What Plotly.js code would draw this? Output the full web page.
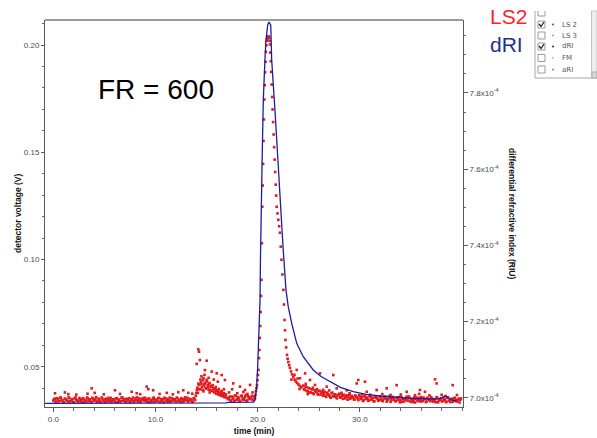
<!DOCTYPE html>
<html>
<head>
<meta charset="utf-8">
<script src="https://cdn.plot.ly/plotly-3.0.1.min.js"></script>
<style>
  html, body { margin: 0; padding: 0; background: #ffffff; }
  #chart { width: 597px; height: 438px; }
</style>
</head>
<body>
<div id="chart"></div>
<script>
// ---------------- DATA ----------------
// LS2 detector voltage (V) vs time (min)
const ls2Time = [
  0,0.15,0.3,0.45,0.6,0.75,0.9,1.05,1.2,1.35,
  1.5,1.65,1.8,1.95,2.1,2.25,2.4,2.55,2.7,2.85,
  3,3.15,3.3,3.45,3.6,3.75,3.9,4.05,4.2,4.35,
  4.5,4.65,4.8,4.95,5.1,5.25,5.4,5.55,5.7,5.85,
  6,6.15,6.3,6.45,6.6,6.75,6.9,7.05,7.2,7.35,
  7.5,7.65,7.8,7.95,8.1,8.25,8.4,8.55,8.7,8.85,
  9,9.15,9.3,9.45,9.6,9.75,9.9,10.05,10.2,10.35,
  10.5,10.65,10.8,10.95,11.1,11.25,11.4,11.55,11.7,11.85,
  12,12.15,12.3,12.45,12.6,12.75,12.9,13.05,13.2,13.35,
  13.5,13.65,13.8,
  13.95,14.05,14.15,14.25,14.35,14.45,14.55,14.65,14.75,14.85,14.95,
  15.05,15.15,15.25,15.35,15.45,15.55,15.65,15.75,15.85,15.95,
  16.05,16.15,16.25,16.35,16.45,16.55,16.65,16.75,16.85,16.95,
  17.1,17.25,17.4,17.55,17.7,17.85,18,18.15,18.3,18.45,18.6,18.75,
  18.9,19.05,19.2,19.35,19.5,19.65,
  19.74,19.78,19.83,19.88,19.93,19.98,20.03,20.08,20.13,20.17,
  20.21,20.25,20.29,20.33,20.37,20.41,20.45,20.49,20.53,20.57,
  20.61,20.65,20.69,20.73,20.77,20.81,20.85,20.89,20.93,20.97,
  21.01,21.05,21.09,21.13,21.16,21.20,
  21.24,21.28,21.32,21.37,21.42,21.46,21.51,21.56,21.61,21.66,
  21.71,21.76,21.81,21.86,21.94,22.02,22.10,22.18,22.26,22.33,
  22.42,22.51,22.57,22.63,22.68,22.72,22.79,22.87,22.93,23.00,
  23.08,23.16,23.26,23.36,23.49,23.61,23.73,23.85,23.99,24.13,24.28,
  24.45,24.6,24.75,24.9,25.05,25.2,25.35,25.5,25.65,25.8,25.95,26.1,
  26.25,26.4,26.55,26.7,26.85,27,27.15,27.3,27.45,27.6,27.75,27.9,
  28.05,28.2,28.35,28.5,28.65,28.8,28.95,29.1,29.25,29.4,29.55,29.7,
  29.85,30,30.15,30.3,30.45,30.6,30.75,30.9,31.05,31.2,31.35,31.5,
  31.65,31.8,31.95,32.1,32.25,32.4,32.55,32.7,32.85,33,33.15,33.3,
  33.45,33.6,33.75,33.9,34.05,34.2,34.35,34.5,34.65,34.8,34.95,35.1,
  35.25,35.4,35.55,35.7,35.85,36,36.15,36.3,36.45,36.6,36.75,36.9,
  37.05,37.2,37.35,37.5,37.65,37.8,37.95,38.1,38.25,38.4,38.55,38.7,
  38.85,39,39.15,39.3,39.45,39.6,39.75,39.9
];
const ls2Voltage = [
  0.0342,0.0351,0.0336,0.0347,0.0339,0.0355,0.0344,0.0334,0.0349,0.0341,
  0.0357,0.0338,0.0346,0.0335,0.0352,0.0343,0.0337,0.0354,0.0340,0.0348,
  0.0333,0.0345,0.0356,0.0339,0.0347,0.0336,0.0350,0.0342,0.0358,0.0337,
  0.0346,0.0334,0.0352,0.0341,0.0349,0.0338,0.0355,0.0343,0.0336,0.0348,
  0.0340,0.0353,0.0335,0.0346,0.0339,0.0357,0.0344,0.0337,0.0350,0.0342,
  0.0334,0.0348,0.0356,0.0340,0.0345,0.0338,0.0352,0.0336,0.0347,0.0343,
  0.0355,0.0339,0.0349,0.0335,0.0344,0.0351,0.0337,0.0346,0.0341,0.0354,
  0.0338,0.0347,0.0333,0.0352,0.0343,0.0336,0.0356,0.0340,0.0349,0.0345,
  0.0337,0.0353,0.0342,0.0335,0.0348,0.0340,0.0357,0.0344,0.0338,0.0350,
  0.0346,0.0336,0.0353,
  0.0365,0.0392,0.0378,0.0415,0.0396,0.0428,0.0405,0.0437,0.0412,0.0425,0.0398,
  0.0431,0.0404,0.0418,0.0392,0.0409,0.0386,0.0401,0.0380,0.0395,0.0374,
  0.0388,0.0370,0.0383,0.0366,0.0378,0.0362,0.0372,0.0358,0.0367,0.0355,
  0.0348,0.0360,0.0342,0.0356,0.0339,0.0363,0.0347,0.0352,0.0341,0.0365,0.0345,0.0358,
  0.0340,0.0362,0.0349,0.0355,0.0344,0.0361,
  0.0352,0.0368,0.0385,0.0400,0.0414,0.0437,0.0461,0.0485,0.0540,0.0578,
  0.0634,0.0690,0.0755,0.0830,0.0905,0.1076,0.1246,0.1345,0.1446,0.1553,
  0.1653,0.1746,0.1813,0.1873,0.1922,0.1968,0.1999,0.2020,0.2030,0.2038,
  0.2041,0.2040,0.2038,0.2033,0.2020,0.2003,
  0.1965,0.1925,0.1875,0.1816,0.1758,0.1700,0.1641,0.1583,0.1524,0.1466,
  0.1408,0.1349,0.1298,0.1246,0.1215,0.1185,0.1155,0.1125,0.1060,0.0999,
  0.0930,0.0858,0.0790,0.0718,0.0670,0.0625,0.0590,0.0555,0.0537,0.0522,
  0.0507,0.0494,0.0478,0.0464,0.0452,0.0440,0.0431,0.0424,0.0417,0.0410,0.0404,
  0.0412,0.0391,0.0405,0.0384,0.0399,0.0379,0.0394,0.0372,0.0389,0.0381,0.0369,0.0386,
  0.0378,0.0364,0.0383,0.0359,0.0374,0.0366,0.0355,0.0379,0.0361,0.0370,0.0352,0.0368,
  0.0357,0.0371,0.0350,0.0365,0.0358,0.0346,0.0369,0.0353,0.0362,0.0348,0.0366,0.0355,
  0.0344,0.0361,0.0352,0.0340,0.0364,0.0349,0.0356,0.0343,0.0359,0.0347,0.0338,0.0357,
  0.0353,0.0341,0.0362,0.0346,0.0339,0.0358,0.0350,0.0343,0.0361,0.0336,0.0355,0.0347,
  0.0340,0.0357,0.0345,0.0334,0.0359,0.0349,0.0338,0.0354,0.0343,0.0361,0.0336,0.0351,
  0.0344,0.0333,0.0356,0.0347,0.0338,0.0358,0.0341,0.0350,0.0335,0.0355,0.0345,0.0339,
  0.0352,0.0337,0.0347,0.0358,0.0334,0.0345,0.0353,0.0340,0.0349,0.0336,0.0356,0.0342,
  0.0335,0.0350,0.0341,0.0355,0.0338,0.0347,0.0333,0.0352
];
// interleaved LS2 readings (second pass through the dense band)
const ls2BandTime = [
  0.075,0.225,0.375,0.525,0.675,0.825,0.975,1.125,1.275,1.425,
  1.575,1.725,1.875,2.025,2.175,2.325,2.475,2.625,2.775,2.925,
  3.075,3.225,3.375,3.525,3.675,3.825,3.975,4.125,4.275,4.425,
  4.575,4.725,4.875,5.025,5.175,5.325,5.475,5.625,5.775,5.925,
  6.075,6.225,6.375,6.525,6.675,6.825,6.975,7.125,7.275,7.425,
  7.575,7.725,7.875,8.025,8.175,8.325,8.475,8.625,8.775,8.925,
  9.075,9.225,9.375,9.525,9.675,9.825,9.975,10.125,10.275,10.425,
  10.575,10.725,10.875,11.025,11.175,11.325,11.475,11.625,11.775,11.925,
  12.075,12.225,12.375,12.525,12.675,12.825,12.975,13.125,13.275,13.425,
  13.575,13.725,13.875,
  14,14.1,14.2,14.3,14.4,14.5,14.6,14.7,14.8,14.9,15,15.1,15.2,15.3,15.4,
  15.5,15.6,15.7,15.8,15.9,16,16.1,16.2,16.3,16.4,16.5,16.6,16.7,16.8,16.9,
  17.175,17.325,17.475,17.625,17.775,17.925,18.075,18.225,18.375,18.525,
  18.675,18.825,18.975,19.125,19.275,19.425,19.575,
  24.525,24.675,24.825,24.975,25.125,25.275,25.425,25.575,25.725,25.875,
  26.025,26.175,26.325,26.475,26.625,26.775,26.925,27.075,27.225,27.375,
  27.525,27.675,27.825,27.975,28.125,28.275,28.425,28.575,28.725,28.875,
  29.025,29.175,29.325,29.475,29.625,29.775,29.925,30.075,30.225,30.375,
  30.525,30.675,30.825,30.975,31.125,31.275,31.425,31.575,31.725,31.875,
  32.025,32.175,32.325,32.475,32.625,32.775,32.925,33.075,33.225,33.375,
  33.525,33.675,33.825,33.975,34.125,34.275,34.425,34.575,34.725,34.875,
  35.025,35.175,35.325,35.475,35.625,35.775,35.925,36.075,36.225,36.375,
  36.525,36.675,36.825,36.975,37.125,37.275,37.425,37.575,37.725,37.875,
  38.025,38.175,38.325,38.475,38.625,38.775,38.925,39.075,39.225,39.375,
  39.525,39.675,39.825
];
const ls2BandVoltage = [
  0.0348,0.0337,0.0353,0.0340,0.0356,0.0343,0.0335,0.0351,0.0346,0.0338,
  0.0354,0.0341,0.0349,0.0334,0.0357,0.0345,0.0339,0.0350,0.0336,0.0353,
  0.0344,0.0338,0.0352,0.0347,0.0335,0.0355,0.0342,0.0349,0.0337,0.0351,
  0.0340,0.0356,0.0343,0.0336,0.0350,0.0345,0.0339,0.0354,0.0341,0.0348,
  0.0335,0.0352,0.0346,0.0338,0.0355,0.0342,0.0350,0.0336,0.0347,0.0353,
  0.0340,0.0344,0.0337,0.0351,0.0357,0.0343,0.0339,0.0349,0.0354,0.0341,
  0.0346,0.0336,0.0352,0.0344,0.0338,0.0356,0.0347,0.0340,0.0353,0.0335,
  0.0349,0.0343,0.0355,0.0339,0.0350,0.0345,0.0337,0.0352,0.0342,0.0348,
  0.0356,0.0340,0.0346,0.0353,0.0338,0.0350,0.0343,0.0355,0.0341,0.0347,
  0.0337,0.0352,0.0344,
  0.0378,0.0402,0.0421,0.0395,0.0440,0.0418,0.0392,0.0447,0.0420,0.0401,
  0.0439,0.0415,0.0393,0.0424,0.0407,0.0388,0.0414,0.0397,0.0384,0.0405,
  0.0390,0.0378,0.0396,0.0381,0.0372,0.0387,0.0369,0.0376,0.0364,0.0371,
  0.0355,0.0343,0.0361,0.0350,0.0366,0.0345,0.0358,0.0340,0.0363,0.0352,
  0.0347,0.0368,0.0343,0.0357,0.0350,0.0364,0.0346,
  0.0396,0.0408,0.0387,0.0401,0.0380,0.0395,0.0376,0.0390,0.0383,0.0372,
  0.0388,0.0370,0.0381,0.0374,0.0365,0.0379,0.0368,0.0360,0.0376,0.0363,
  0.0371,0.0358,0.0367,0.0374,0.0356,0.0363,0.0369,0.0352,0.0366,0.0359,
  0.0350,0.0364,0.0357,0.0346,0.0361,0.0353,0.0367,0.0349,0.0358,0.0344,
  0.0360,0.0351,0.0341,0.0363,0.0347,0.0355,0.0339,0.0358,0.0350,0.0345,
  0.0357,0.0342,0.0352,0.0361,0.0337,0.0348,0.0355,0.0343,0.0359,0.0346,
  0.0339,0.0353,0.0358,0.0344,0.0336,0.0351,0.0347,0.0360,0.0341,0.0354,
  0.0345,0.0335,0.0357,0.0349,0.0340,0.0354,0.0343,0.0338,0.0356,0.0348,
  0.0337,0.0351,0.0344,0.0358,0.0340,0.0347,0.0334,0.0355,0.0343,0.0350,
  0.0338,0.0354,0.0346,0.0335,0.0357,0.0341,0.0349,0.0336,0.0353,0.0344,
  0.0339,0.0351,0.0346
];
// scattered LS2 readings above the dense band
const ls2ScatterTime = [
  0.17,1.14,1.47,2.25,3.35,3.76,4.05,4.94,6.04,6.53,7.67,8.16,8.5,9.14,9.3,9.78,
  10.4,11.1,11.7,12.23,12.72,13.21,13.6,
  14.19,14.26,14.35,14.03,15.01,14.84,15.5,15.99,16.48,16.8,17.61,18.27,18.76,19.25,
  14.5,14.8,15.2,15.7,14.7,15.3,16.1,16.7,17.2,17.5,18.0,18.6,19.0,19.5,
  24.64,25.12,26.1,25.61,27.4,27.73,29.84,29.69,30.67,32.62,33.6,34.58,35.88,37.35,
  37.51,39.08,36.37,31.64,28.71,26.75,24.14,23.82,30.5,
  23.3,23.6,23.9,24.1,24.7,24.9,25.4,25.8,26.4,27.0,28.2,29.0,30.2,31.0,32.2,33.0,
  34.0,35.4,35.8,36.8,38.0,38.4,39.5
];
const ls2ScatterVoltage = [
  0.0376,0.0380,0.0372,0.0370,0.0374,0.0399,0.0378,0.0371,0.0390,0.0373,0.0383,0.0376,
  0.0372,0.0407,0.0395,0.0390,0.0373,0.0378,0.0371,0.0381,0.0390,0.0378,0.0374,
  0.0581,0.0570,0.0531,0.0513,0.0528,0.0484,0.0477,0.0469,0.0461,0.0438,0.0422,0.0407,
  0.0391,0.0415,
  0.0455,0.0462,0.0448,0.0440,0.0385,0.0380,0.0430,0.0395,0.0380,0.0395,0.0376,0.0382,
  0.0373,0.0380,
  0.0469,0.0438,0.0469,0.0415,0.0461,0.0399,0.0438,0.0422,0.0383,0.0399,0.0414,0.0383,
  0.0391,0.0441,0.0422,0.0414,0.0383,0.0391,0.0390,0.0407,0.0446,0.0485,0.0430,
  0.0440,0.0462,0.0445,0.0396,0.0420,0.0372,0.0402,0.0395,0.0392,0.0389,0.0378,0.0376,
  0.0371,0.0369,0.0372,0.0368,0.0370,0.0367,0.0373,0.0366,0.0369,0.0363,0.0368
];
// dRI differential refractive index (RIU) vs time (min)
const driTime = [
  -0.8,4.9,5.1,16.9,17.1,19.6,19.74,19.9,20.0,20.13,20.23,20.27,20.32,20.42,20.49,
  20.55,20.71,20.81,20.98,21.11,21.28,21.30,21.37,21.69,21.96,22.28,22.50,22.77,22.99,
  23.33,23.82,24.46,25.44,26.2,27.07,28.1,29.35,30.6,31.97,34.9,37.18,37.84,38.33,
  38.98,39.47
];
const driRIU = [
  6.9853e-4,6.9853e-4,6.9866e-4,6.9866e-4,6.9880e-4,6.9884e-4,6.9940e-4,7.0289e-4,
  7.0814e-4,7.1698e-4,7.2565e-4,7.3615e-4,7.4796e-4,7.5977e-4,7.7027e-4,7.7814e-4,
  7.8864e-4,7.9389e-4,7.9783e-4,7.9862e-4,7.9783e-4,7.9389e-4,7.8864e-4,7.7552e-4,
  7.6239e-4,7.5005e-4,7.3877e-4,7.2826e-4,7.2389e-4,7.1953e-4,7.1428e-4,7.1076e-4,
  7.0727e-4,7.0555e-4,7.0420e-4,7.0270e-4,7.0158e-4,7.0090e-4,7.0045e-4,6.9984e-4,
  6.9966e-4,6.9975e-4,7.0045e-4,6.9940e-4,6.9913e-4
];
// tick labels
const timeTickVals = [0, 10, 20, 30];
const riTickVals = [7.0e-4, 7.2e-4, 7.4e-4, 7.6e-4, 7.8e-4];
const riTickText = ['7.0x10<sup>-4</sup>','7.2x10<sup>-4</sup>','7.4x10<sup>-4</sup>',
                    '7.6x10<sup>-4</sup>','7.8x10<sup>-4</sup>'];
// software legend panel entries
const panelLabels = ['LS 2','LS 3','dRI','FM','aRI'];
const panelChecked = [true,false,true,false,false];
const panelDotColors = ['#e02020','#6fbf6f','#1e2a8c','#d8c840','#3aa8a0'];

// ---------------- LAYOUT HELPERS ----------------
const W = 597, H = 438;
const L = 45, R = 463, T = 20, B = 407;
const px = x => (x - L) / (R - L);
const py = y => (B - y) / (B - T);
const FONT = 'Liberation Sans, Arial, sans-serif';

const red = '#e3191c';
const navy = '#1c1ca6';
const redMarker = { symbol: 'square', size: 2.6, color: red, line: { width: 0 } };

const traces = [
  { x: ls2Time, y: ls2Voltage, type: 'scatter', mode: 'markers', name: 'LS2',
    marker: redMarker, hoverinfo: 'skip' },
  { x: ls2BandTime, y: ls2BandVoltage, type: 'scatter', mode: 'markers', name: 'LS2 band',
    marker: redMarker, hoverinfo: 'skip' },
  { x: ls2ScatterTime, y: ls2ScatterVoltage, type: 'scatter', mode: 'markers', name: 'LS2 scatter',
    marker: redMarker, hoverinfo: 'skip' },
  { x: driTime, y: driRIU, type: 'scatter', mode: 'lines', name: 'dRI', yaxis: 'y2',
    line: { color: navy, width: 1.3 }, hoverinfo: 'skip' }
];

const shapes = [
  { type: 'line', xref: 'paper', yref: 'paper', x0: 0, x1: 1, y0: 1, y1: 1,
    line: { color: '#9c9c9c', width: 2 } },
  { type: 'rect', xref: 'paper', yref: 'paper', x0: px(535), x1: px(597), y0: py(78), y1: py(11),
    fillcolor: '#ffffff', line: { width: 0 } },
  { type: 'line', xref: 'paper', yref: 'paper', x0: px(535), x1: px(535), y0: py(78), y1: py(11),
    line: { color: '#a8a8a8', width: 1 } },
  { type: 'line', xref: 'paper', yref: 'paper', x0: px(535), x1: px(597), y0: py(78), y1: py(78),
    line: { color: '#a8a8a8', width: 1 } },
  { type: 'rect', xref: 'paper', yref: 'paper', x0: px(591.5), x1: px(597), y0: py(78), y1: py(11),
    fillcolor: '#eeeeee', line: { color: '#c4c4c4', width: 1 } },
  { type: 'rect', xref: 'paper', yref: 'paper', x0: px(592), x1: px(597), y0: py(78), y1: py(72),
    fillcolor: '#d8d8d8', line: { color: '#b0b0b0', width: 1 } },
  { type: 'path', xref: 'paper', yref: 'paper',
    path: `M ${px(538)},${py(11)} L ${px(538)},${py(16)} L ${px(545)},${py(16)} L ${px(545)},${py(11)}`,
    line: { color: '#9a9a9a', width: 1 } }
];

const rowY = [24.5, 35.5, 46.5, 58, 69.5];
const titleFont = { family: FONT, size: 8.5, color: '#111', weight: 'bold' };
const annotations = [
  { text: 'FR = 600', xref: 'paper', yref: 'paper', x: px(96), y: py(90),
    xanchor: 'left', yanchor: 'middle', showarrow: false,
    font: { family: FONT, size: 28, color: '#000000' } },
  { text: 'LS2', xref: 'paper', yref: 'paper', x: px(488), y: py(17),
    xanchor: 'left', yanchor: 'middle', showarrow: false,
    font: { family: FONT, size: 21, color: '#ff1f1f' } },
  { text: 'dRI', xref: 'paper', yref: 'paper', x: px(488), y: py(44),
    xanchor: 'left', yanchor: 'middle', showarrow: false,
    font: { family: FONT, size: 21, color: '#1e318e' } },
  { text: 'detector voltage (V)', xref: 'paper', yref: 'paper',
    x: px(18), y: py(213), xanchor: 'center', yanchor: 'middle', textangle: -90,
    showarrow: false, font: titleFont },
  { text: 'differential refractive index (RIU)', xref: 'paper', yref: 'paper',
    x: px(512), y: py(213), xanchor: 'center', yanchor: 'middle', textangle: 90,
    showarrow: false, font: titleFont }
];

panelLabels.forEach((lab, i) => {
  const cy = rowY[i];
  shapes.push({ type: 'rect', xref: 'paper', yref: 'paper',
    x0: px(538), x1: px(545), y0: py(cy + 3.5), y1: py(cy - 3.5),
    fillcolor: '#ffffff', line: { color: '#9a9a9a', width: 1 } });
  if (panelChecked[i]) {
    shapes.push({ type: 'path', xref: 'paper', yref: 'paper',
      path: `M ${px(539)},${py(cy - 0.5)} L ${px(541)},${py(cy + 2)} L ${px(544)},${py(cy - 2.5)}`,
      line: { color: '#222', width: 1.3 } });
  }
  shapes.push({ type: 'circle', xref: 'paper', yref: 'paper',
    x0: px(552), x1: px(554), y0: py(cy + 1), y1: py(cy - 1),
    fillcolor: panelDotColors[i], line: { width: 0 } });
  annotations.push({ text: lab, xref: 'paper', yref: 'paper', x: px(560), y: py(cy),
    xanchor: 'left', yanchor: 'middle', showarrow: false,
    font: { family: 'DejaVu Sans, sans-serif', size: 7, color: '#555' } });
});

const axisCommon = {
  showgrid: false, zeroline: false, showline: true, linecolor: '#5a5a5a', linewidth: 1,
  ticks: 'outside', tickcolor: '#5a5a5a', tickwidth: 1,
  tickfont: { family: FONT, size: 8, color: '#4a4a4a' }
};

const layout = {
  width: W, height: H,
  margin: { l: L, r: W - R, t: T, b: H - B, pad: 0 },
  paper_bgcolor: '#ffffff', plot_bgcolor: '#ffffff',
  showlegend: false,
  xaxis: Object.assign({}, axisCommon, {
    range: [-0.81, 40.09], tickmode: 'array', tickvals: timeTickVals, tickformat: '.1f',
    ticklen: 4,
    minor: { tickmode: 'linear', tick0: 0, dtick: 2, ticks: 'outside', ticklen: 3,
             tickcolor: '#6a6a6a', showgrid: false },
    title: { text: 'time (min)', standoff: 5, font: titleFont }
  }),
  yaxis: Object.assign({}, axisCommon, {
    range: [0.0312, 0.2117], tickmode: 'linear', tick0: 0, dtick: 0.05, tickformat: '.2f',
    ticklen: 3,
    minor: { tickmode: 'linear', tick0: 0, dtick: 0.01, ticks: 'outside', ticklen: 2,
             tickcolor: '#6a6a6a', showgrid: false }
  }),
  yaxis2: Object.assign({}, axisCommon, {
    overlaying: 'y', side: 'right', anchor: 'x',
    range: [6.9756e-4, 7.9916e-4], tickmode: 'array', tickvals: riTickVals, ticktext: riTickText,
    ticklen: 4,
    minor: { tickmode: 'linear', tick0: 7.0e-4, dtick: 0.05e-4, ticks: 'outside', ticklen: 2,
             tickcolor: '#6a6a6a', showgrid: false }
  }),
  shapes: shapes,
  annotations: annotations
};

Plotly.newPlot('chart', traces, layout, { staticPlot: true, displayModeBar: false });
</script>
</body>
</html>
